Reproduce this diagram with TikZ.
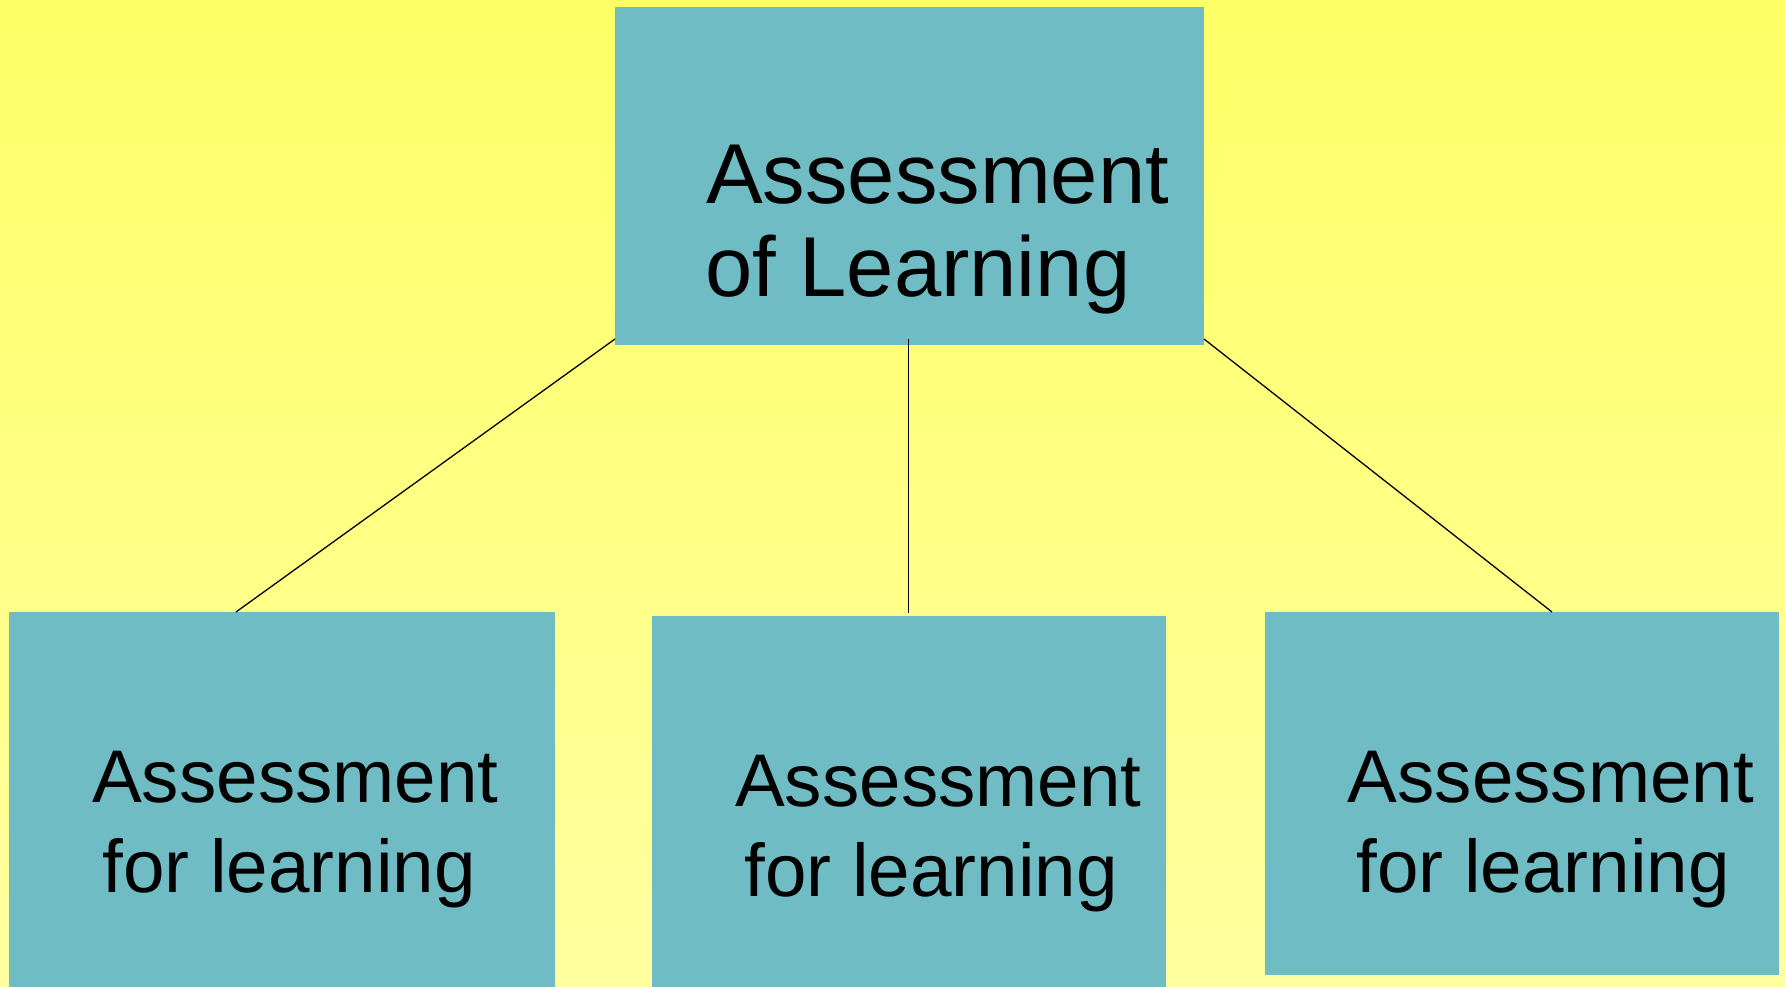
\documentclass[tikz,border=0pt]{standalone}
\usepackage{fontspec}
\setmainfont{Liberation Sans}
\usetikzlibrary{calc}
\definecolor{bgtop}{RGB}{255,255,102}
\definecolor{bgbot}{RGB}{255,255,160}
\definecolor{boxfill}{RGB}{112,188,196}
\tikzset{
  boxnode/.style={rectangle, fill=boxfill, draw=none, inner sep=0pt, outer sep=0pt, anchor=north west},
  bigtext/.style={inner sep=0pt, anchor=base west, text=black, font=\fontsize{85pt}{92pt}\selectfont},
  smalltext/.style={inner sep=0pt, anchor=base west, text=black, font=\fontsize{74.6pt}{90pt}\selectfont},
  link/.style={draw=black, line width=1.3pt}
}
\begin{document}
\begin{tikzpicture}[x=1pt, y=-1pt]
\useasboundingbox (0,0) rectangle (1785,987);
\shade[top color=bgtop, bottom color=bgbot] (0,0) rectangle (1785,987);
% boxes
\node[boxnode, minimum width=589pt, minimum height=338pt] (top) at (615,7) {};
\node[boxnode, minimum width=546pt, minimum height=375pt] (left) at (9,612) {};
\node[boxnode, minimum width=514pt, minimum height=371pt] (mid) at (652,616) {};
\node[boxnode, minimum width=514pt, minimum height=363pt] (right) at (1265,612) {};
% texts
\node[bigtext] (topa) at (706,204) {Assessment};
\node[bigtext] (topb) at (705,296) {of Learning};
\node[smalltext] (lefta) at (92,802) {Assessment};
\node[smalltext] (leftb) at (102.4,892.7) {for learning};
\node[smalltext] (mida) at (735,806.7) {Assessment};
\node[smalltext] (midb) at (744.3,896) {for learning};
\node[smalltext] (righta) at (1347.6,802) {Assessment};
\node[smalltext] (rightb) at (1356.3,892) {for learning};
% connector end points
\coordinate (tl) at ($(top.south west)+(0,-6)$);
\coordinate (tm) at ($(top.south)+(-0.8,-6)$);
\coordinate (tr) at ($(top.south east)+(0,-6)$);
\coordinate (lt) at ($(left.north west)+(227,0)$);
\coordinate (mt) at ($(mid.north west)+(256.7,-3.3)$);
\coordinate (rt) at ($(right.north west)+(287,0)$);
\draw[link] (tl) -- (lt);
\draw[link] (tm) -- (mt);
\draw[link] (tr) -- (rt);
\end{tikzpicture}
\end{document}
